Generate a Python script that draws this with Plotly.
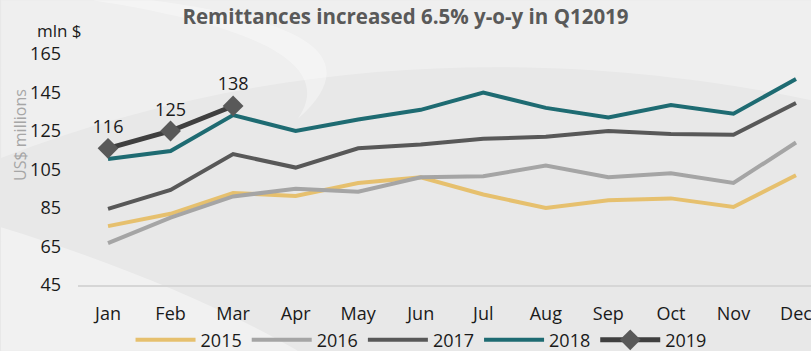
import plotly.graph_objects as go

months = ["Jan", "Feb", "Mar", "Apr", "May", "Jun", "Jul", "Aug", "Sep", "Oct", "Nov", "Dec"]
y2015 = [75.6, 82, 92.8, 91.2, 98, 101, 92, 85, 89, 90, 85.5, 102]
y2016 = [66.8, 80, 91, 95, 93.5, 101, 101.5, 107, 101, 103, 98, 119]
y2017 = [84.5, 94.4, 113, 106, 116, 118, 121, 122, 125, 123.4, 123, 139.5]
y2018 = [110.5, 114.6, 133.3, 125, 131, 136, 145, 137, 132, 138.5, 134, 152]
y2019 = [116, 125, 138]
labels2019 = ["116", "125", "138"]

FONT = "Open Sans"

fig = go.Figure()
fig.add_trace(go.Scatter(x=months, y=y2015, mode="lines", name="2015",
                         line=dict(color="#E6C06E", width=4)))
fig.add_trace(go.Scatter(x=months, y=y2016, mode="lines", name="2016",
                         line=dict(color="#A5A5A5", width=4)))
fig.add_trace(go.Scatter(x=months, y=y2017, mode="lines", name="2017",
                         line=dict(color="#585858", width=4)))
fig.add_trace(go.Scatter(x=months, y=y2018, mode="lines", name="2018",
                         line=dict(color="#1E6B72", width=4)))
fig.add_trace(go.Scatter(x=months[:3], y=y2019, mode="lines+markers+text", name="2019",
                         line=dict(color="#3F3F3F", width=5),
                         marker=dict(symbol="diamond", size=16, color="#595959"),
                         text=labels2019, textposition="top center",
                         textfont=dict(size=18, color="#1a1a1a", family=FONT)))

# paper coords of canvas edges: x 0 -> -0.106, y 0 -> 1.234, y 351 -> -0.286
fig.update_layout(
    width=811, height=351,
    margin=dict(l=78, r=0, t=54, b=66),
    paper_bgcolor="#e8e8e8",
    plot_bgcolor="rgba(0,0,0,0)",
    font=dict(family=FONT, size=18, color="#1a1a1a"),
    title=dict(text="<b>Remittances increased 6.5% y-o-y in Q12019</b>",
               x=0.5, xanchor="center", y=0.952, yanchor="middle",
               font=dict(size=20.5, color="#595959", family=FONT)),
    showlegend=True,
    legend=dict(orientation="h", x=0.468, xanchor="center",
                yref="container", y=0.031, yanchor="middle",
                font=dict(size=18, color="#1a1a1a"), bgcolor="rgba(0,0,0,0)",
                itemwidth=60, tracegroupgap=0),
    xaxis=dict(range=[-0.48, 11.24], showgrid=False, showline=True,
               linecolor="#d6d6d6", linewidth=1.5, ticks="",
               ticklabelstandoff=12, automargin=False),
    yaxis=dict(range=[45, 165], tickvals=[45, 65, 85, 105, 125, 145, 165],
               showgrid=False, zeroline=False, showline=False,
               ticklabelstandoff=16, automargin=False),
    shapes=[
        dict(type="path", xref="paper", yref="paper", layer="below",
             path="M -0.105 1.233 L 1.0 1.233 L 1.0 0.8 C 0.7 1.0, 0.3 1.05, -0.105 0.55 Z",
             fillcolor="rgba(255,255,255,0.3)", line=dict(width=0)),
        dict(type="path", xref="paper", yref="paper", layer="below",
             path="M 0.1 1.233 C 0.3 1.15, 0.4 1.0, 0.3 0.72 C 0.35 0.95, 0.25 1.12, 0.02 1.233 Z",
             fillcolor="rgba(255,255,255,0.35)", line=dict(width=0)),
        dict(type="path", xref="paper", yref="paper", layer="below",
             path="M -0.105 0.25 C 0.05 0.1, 0.2 -0.1, 0.3 -0.285 L -0.105 -0.285 Z",
             fillcolor="rgba(255,255,255,0.4)", line=dict(width=0)),
    ],
    annotations=[
        dict(text="mln $", xref="paper", yref="paper", x=-0.025, y=1.1,
             xanchor="center", yanchor="middle", showarrow=False,
             font=dict(size=17, color="#1a1a1a")),
        dict(text="US$ millions", xref="paper", yref="y", x=-0.079, y=123,
             textangle=-90, xanchor="center", yanchor="middle", showarrow=False,
             font=dict(size=16, color="#a6a6a6")),
    ],
)

fig.write_html("out.html", config={"displayModeBar": False},
               post_script="document.body.style.margin='0';document.body.style.overflow='hidden';")
